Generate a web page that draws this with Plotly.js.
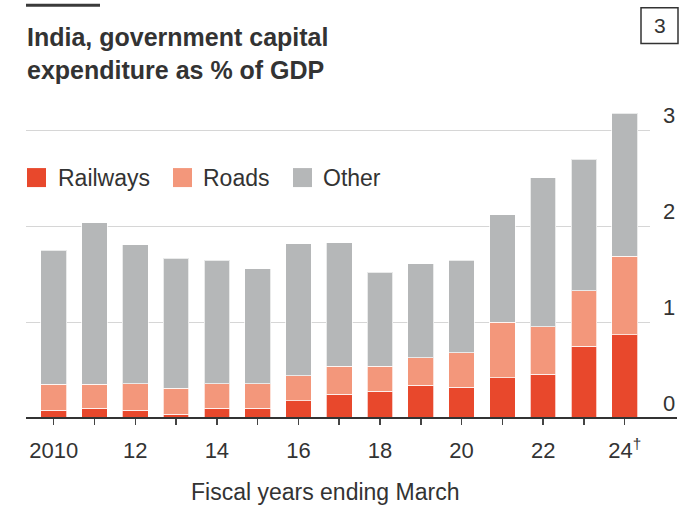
<!DOCTYPE html>
<html>
<head>
<meta charset="utf-8">
<script src="https://cdn.plot.ly/plotly-3.0.1.min.js"></script>
<style>html,body{margin:0;padding:0;background:#fff;}#chart{width:687px;height:508px;}</style>
</head>
<body>
<div id="chart"></div>
<script>
// ---- data ----
var years = [2010, 2011, 2012, 2013, 2014, 2015, 2016, 2017, 2018, 2019, 2020, 2021, 2022, 2023, 2024];
var railways = [0.08, 0.10, 0.08, 0.04, 0.10, 0.10, 0.18, 0.25, 0.28, 0.34, 0.32, 0.42, 0.455, 0.75, 0.87];
var roads    = [0.27, 0.25, 0.28, 0.27, 0.26, 0.26, 0.26, 0.29, 0.26, 0.29, 0.36, 0.58, 0.50, 0.58, 0.82];
var other    = [1.40, 1.69, 1.45, 1.36, 1.29, 1.20, 1.38, 1.29, 0.98, 0.98, 0.97, 1.125, 1.555, 1.37, 1.49];
var labelYears = [2010, 2012, 2014, 2016, 2018, 2020, 2022, 2024];
var tickLabels = ["2010", "12", "14", "16", "18", "20", "22", "24<sup>†</sup>"];
var yTicks = [0, 1, 2, 3];
var seriesNames = ["Railways", "Roads", "Other"];
var seriesColors = ["#e8482c", "#f3977b", "#b5b7b8"];

// ---- layout helpers (pixel -> paper) ----
var W = 687, H = 508, ML = 26, MR = 37, MT = 102.4, MB = 89.5;
var PW = W - ML - MR, PH = H - MT - MB;
function px(x) { return (x - ML) / PW; }
function py(y) { return (H - MB - y) / PH; }

var FONT = "Liberation Sans, Arial, Helvetica, sans-serif";
var TXT = "#333333";

var values = [railways, roads, other];
var traces = seriesNames.map(function (n, i) {
  return {
    type: "bar", name: n, x: years, y: values[i],
    marker: { color: seriesColors[i], line: { color: "rgba(255,255,255,0.7)", width: 1 } },
    width: 0.63, showlegend: false, hoverinfo: "x+y+name"
  };
});

var shapes = [
  // top-left rule
  { type: "line", xref: "paper", yref: "paper", x0: px(26), x1: px(100), y0: py(5.5), y1: py(5.5), line: { color: "#3a3a3a", width: 3 } },
  // chart number box
  { type: "rect", xref: "paper", yref: "paper", x0: px(641), x1: px(678), y0: py(44), y1: py(8), line: { color: "#333", width: 1.5 } },
  // baseline
  { type: "line", xref: "paper", yref: "paper", x0: 0, x1: px(677), y0: 0, y1: 0, line: { color: "#333", width: 2 }, layer: "above" }
];
var annotations = [
  { xref: "paper", yref: "paper", x: px(659.5), y: py(26), text: "3", showarrow: false, xanchor: "center", yanchor: "middle", font: { family: FONT, size: 21, color: TXT } },
  { xref: "paper", yref: "paper", x: px(325), y: 0, yshift: -73.5, text: "Fiscal years ending March", showarrow: false, xanchor: "center", yanchor: "middle", font: { family: FONT, size: 23, color: TXT } }
];
// legend drawn manually
var legSq = [27, 173, 293];
var legTx = [56, 201, 321];
seriesNames.forEach(function (n, i) {
  shapes.push({ type: "rect", xref: "paper", yref: "paper", x0: px(legSq[i]), x1: px(legSq[i] + 19), y0: py(187.5), y1: py(168.5), line: { width: 0 }, fillcolor: seriesColors[i] });
  annotations.push({ xref: "paper", yref: "paper", x: px(legTx[i]), y: py(178), text: n, showarrow: false, xanchor: "left", yanchor: "middle", font: { family: FONT, size: 23, color: TXT } });
});

var layout = {
  width: W, height: H,
  margin: { l: ML, r: MR, t: MT, b: MB },
  paper_bgcolor: "#fff", plot_bgcolor: "#fff",
  barmode: "stack",
  title: {
    text: "<b>India, government capital<br>expenditure as % of GDP</b>",
    xref: "container", yref: "container", x: 27 / W, xanchor: "left",
    y: 1 - 46 / H, yanchor: "top",
    font: { family: FONT, size: 25, color: TXT }
  },
  xaxis: {
    range: [2009.32, 2024.62],
    tickvals: labelYears, ticktext: tickLabels,
    ticks: "outside", ticklen: 6, tickwidth: 1.5, tickcolor: "#444",
    minor: { tickvals: years, ticks: "outside", ticklen: 6, tickwidth: 1.5, tickcolor: "#444", showgrid: false },
    ticklabelstandoff: 7,
    showgrid: false, zeroline: false, showline: false,
    tickfont: { family: FONT, size: 22, color: TXT }
  },
  yaxis: {
    side: "right", range: [0, 3.3], tickvals: yTicks,
    showgrid: true, gridcolor: "#d6d6d6", gridwidth: 1.2,
    zeroline: false, showline: false, ticks: "",
    ticklabelstandoff: 12, ticklabelshift: -15,
    tickfont: { family: FONT, size: 22, color: TXT }
  },
  shapes: shapes,
  annotations: annotations,
  bargap: 0.37
};

Plotly.newPlot("chart", traces, layout, { staticPlot: true, displayModeBar: false });
</script>
</body>
</html>
